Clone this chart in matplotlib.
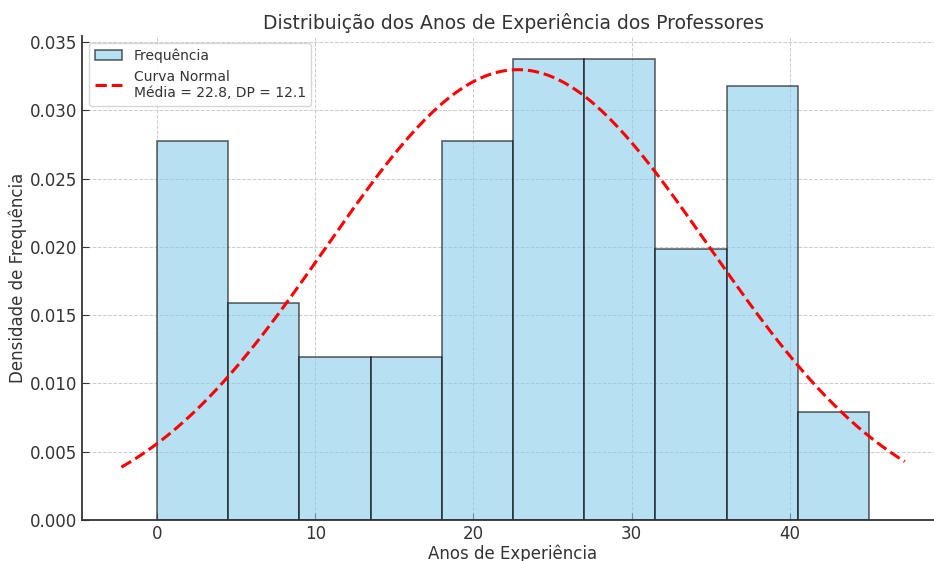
import matplotlib
matplotlib.use("Agg")
import matplotlib.pyplot as plt
import numpy as np

# histogram data (counts per bin of 4.5 years)
bin_edges = [0, 4.5, 9, 13.5, 18, 22.5, 27, 31.5, 36, 40.5, 45]
counts = [14, 8, 6, 6, 14, 17, 17, 10, 16, 4]
media = 22.8
dp = 12.1

plt.rcParams['text.color'] = '#333333'
plt.rcParams['axes.labelcolor'] = '#333333'
plt.rcParams['xtick.color'] = '#333333'
plt.rcParams['ytick.color'] = '#333333'

fig = plt.figure(figsize=(9.34, 5.61), dpi=100)
ax = fig.add_axes([82.2 / 934, 41 / 561, 861.7 / 934, 484.2 / 561])

centers = [(bin_edges[i] + bin_edges[i + 1]) / 2 for i in range(len(counts))]
ax.hist(centers, bins=bin_edges, weights=counts, density=True,
        color='skyblue', alpha=0.6, edgecolor='black', linewidth=1.2,
        label='Frequência')

# normal curve
x = np.linspace(-2.25, 47.25, 200)
y = np.exp(-0.5 * ((x - media) / dp) ** 2) / (dp * np.sqrt(2 * np.pi))
ax.plot(x, y, 'r--', linewidth=2.2,
        label='Curva Normal\nMédia = %.1f, DP = %.1f' % (media, dp))

ax.set_xlim(-4.725, 49.725)
ax.set_ylim(0, 0.03545)
ax.set_yticks(np.arange(0, 0.0351, 0.005))
ax.set_yticklabels(['%.3f' % v for v in np.arange(0, 0.0351, 0.005)])

ax.grid(True, linestyle='--', color='#cccccc', linewidth=0.7)
ax.set_axisbelow(True)
ax.spines['top'].set_visible(False)
ax.spines['right'].set_visible(False)
for s in ['left', 'bottom']:
    ax.spines[s].set_color('#333333')
    ax.spines[s].set_linewidth(1.3)
ax.tick_params(direction='in', labelsize=12, length=5)

ax.set_title('Distribuição dos Anos de Experiência dos Professores', fontsize=13.5, pad=5)
ax.set_xlabel('Anos de Experiência', fontsize=12, labelpad=1)
ax.set_ylabel('Densidade de Frequência', fontsize=12, labelpad=2)
ax.legend(loc='upper left', fontsize=10, edgecolor='#cccccc')

fig.savefig('out.png', dpi=100)
